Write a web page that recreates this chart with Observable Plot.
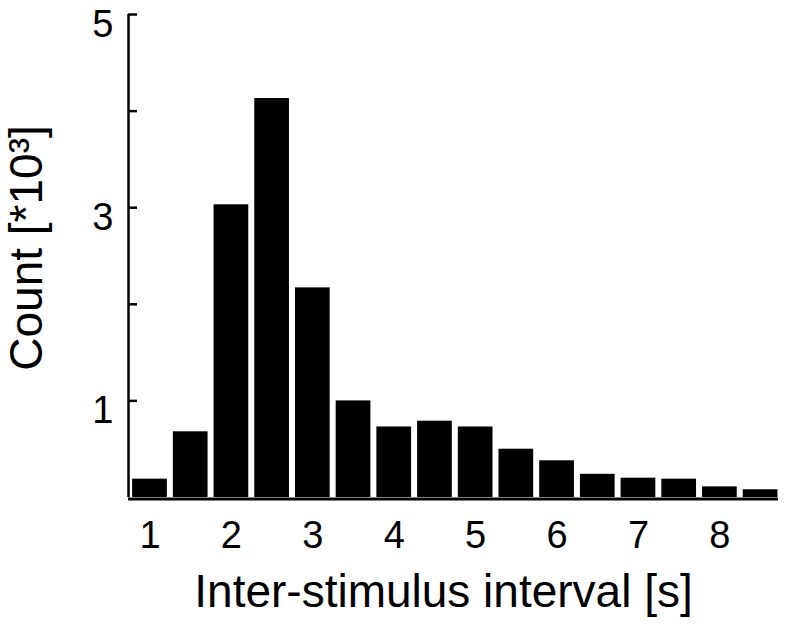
<!DOCTYPE html>
<html>
<head>
<meta charset="utf-8">
<script src="https://cdn.jsdelivr.net/npm/d3@7"></script>
<script src="https://cdn.jsdelivr.net/npm/@observablehq/plot@0.6"></script>
<style>
  html, body { margin: 0; padding: 0; background: #fff; }
  svg { display: block; }
</style>
</head>
<body>
<div id="chart"></div>
<script>
// Bin centers (inter-stimulus interval, s) and counts (*10^3)
const binCenters = [1, 1.5, 2, 2.5, 3, 3.5, 4, 4.5, 5, 5.5, 6, 6.5, 7, 7.5, 8, 8.5];
const counts = [0.19, 0.68, 3.03, 4.13, 2.17, 1.0, 0.73, 0.79, 0.73, 0.50, 0.38, 0.24, 0.20, 0.19, 0.11, 0.08];
const binWidth = 0.5;
const xTickLabels = [1, 2, 3, 4, 5, 6, 7, 8];
const yTickMarks = [1, 2, 3, 4, 5];
const yTickLabels = [1, 3, 5];
const xTitle = "Inter-stimulus interval [s]";
const yTitle = "Count [*10\u00B3]";

const data = binCenters.map((c, i) => ({x1: c - binWidth / 2, x2: c + binWidth / 2, count: counts[i]}));

const W = 787, H = 625;
const mL = 128, mR = 9, mT = 14, mB = 128;
const font = "'Liberation Sans', Arial, Helvetica, sans-serif";

const chart = Plot.plot({
  width: W,
  height: H,
  marginLeft: mL,
  marginRight: mR,
  marginTop: mT,
  marginBottom: mB,
  style: {fontFamily: font, background: "#fff", color: "#000"},
  x: {domain: [0.736, 8.72], axis: null},
  y: {domain: [0, 5], axis: null},
  marks: [
    Plot.rectY(data, {x1: "x1", x2: "x2", y1: 0, y2: "count", fill: "#000", insetLeft: 3, insetRight: 3}),
    Plot.ruleX([0.736], {stroke: "#000", strokeWidth: 2.5}),
    Plot.ruleY([0], {stroke: "#000", strokeWidth: 3, dy: 1.5}),
    Plot.tickY(yTickMarks, {y: d => d, stroke: "#000", strokeWidth: 2.5, insetRight: (W - mL - mR) - 9}),
    Plot.text(yTickLabels, {y: d => d, text: d => String(d), frameAnchor: "left", dx: -15, dy: 10, textAnchor: "end", lineAnchor: "middle", fontSize: 38, fill: "#000"}),
    Plot.text(xTickLabels, {x: d => d, text: d => String(d), frameAnchor: "bottom", dy: 24, lineAnchor: "top", fontSize: 38, fill: "#000"}),
    Plot.text([xTitle], {frameAnchor: "bottom", dy: 95, dx: -10, fontSize: 46, lineAnchor: "middle", fill: "#000"}),
    Plot.text([yTitle], {frameAnchor: "left", dx: -101, dy: -8, rotate: -90, fontSize: 46, lineAnchor: "middle", textAnchor: "middle", fill: "#000"})
  ]
});

document.getElementById("chart").appendChild(chart);
</script>
</body>
</html>
